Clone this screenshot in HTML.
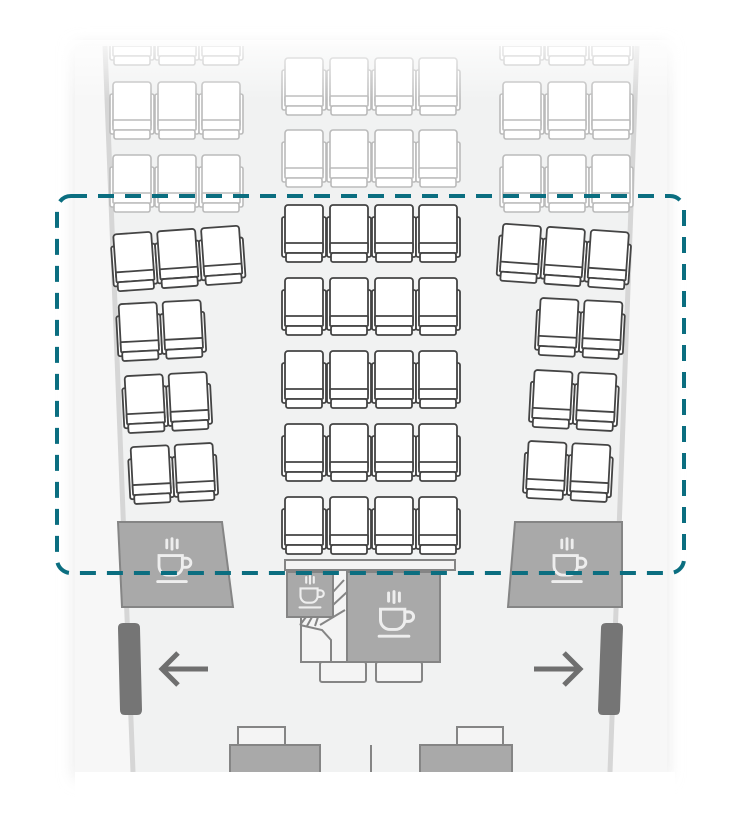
<!DOCTYPE html>
<html><head><meta charset="utf-8"><style>
html,body{margin:0;padding:0;background:#fff;width:740px;height:824px;overflow:hidden}
svg{display:block}
</style></head><body>
<svg width="740" height="824" viewBox="0 0 740 824" xmlns="http://www.w3.org/2000/svg">
<defs>
<g id="s">
 <rect x="0" y="12" width="5" height="40" rx="2" fill="#fff"/>
 <rect x="39" y="12" width="5" height="40" rx="2" fill="#fff"/>
 <rect x="3" y="0" width="38" height="46" rx="3" fill="#fff"/>
 <rect x="3" y="38" width="38" height="10" rx="1" fill="#fff"/>
 <rect x="4" y="48" width="36" height="9" rx="2" fill="#fff"/>
</g>
<g id="cup" fill="none" stroke-width="2.2" stroke-linecap="round">
 <path d="M-4,-14v-6 M0,-13v-8 M4,-14v-6"/>
 <path d="M-10,-8h18v8a7,7 0 0 1 -7,7h-4a7,7 0 0 1 -7,-7z"/>
 <path d="M8,-6h3a3.5,3.5 0 0 1 0,7h-3"/>
 <path d="M-11,12h22"/>
</g>
<linearGradient id="fade" x1="0" y1="0" x2="0" y2="1">
 <stop offset="0" stop-color="#fff" stop-opacity="1"/>
 <stop offset="1" stop-color="#fff" stop-opacity="0"/>
</linearGradient>
<clipPath id="topclip"><rect x="0" y="46" width="740" height="800"/></clipPath>
<filter id="sh" x="-10%" y="-10%" width="120%" height="120%"><feGaussianBlur stdDeviation="8"/></filter>
</defs>
<rect x="75" y="46" width="592" height="732" fill="#e6e6e6" filter="url(#sh)"/>
<rect x="75" y="46" width="592" height="726" fill="#f7f7f7"/>
<path d="M105,46 L133,772 L610,772 L637,46 Z" fill="#f1f2f2"/>
<path d="M105,46 L133,772 M637,46 L610,772" stroke="#d6d6d6" stroke-width="5"/>

<!-- faded seats -->
<g stroke="#bbb" stroke-width="1.6" clip-path="url(#topclip)">
 <use href="#s" x="110" y="82"/><use href="#s" x="155" y="82"/><use href="#s" x="199" y="82"/>
 <use href="#s" x="110" y="155"/><use href="#s" x="155" y="155"/><use href="#s" x="199" y="155"/>
 <use href="#s" x="500" y="82"/><use href="#s" x="545" y="82"/><use href="#s" x="589" y="82"/>
 <use href="#s" x="500" y="155"/><use href="#s" x="545" y="155"/><use href="#s" x="589" y="155"/>
 <use href="#s" x="282" y="58"/><use href="#s" x="327" y="58"/><use href="#s" x="372" y="58"/><use href="#s" x="416" y="58"/>
 <use href="#s" x="282" y="130"/><use href="#s" x="327" y="130"/><use href="#s" x="372" y="130"/><use href="#s" x="416" y="130"/>
 <use href="#s" x="110" y="8"/><use href="#s" x="155" y="8"/><use href="#s" x="199" y="8"/>
 <use href="#s" x="500" y="8"/><use href="#s" x="545" y="8"/><use href="#s" x="589" y="8"/>
</g>
<rect x="60" y="40" width="620" height="60" fill="url(#fade)" opacity="0.8"/>

<!-- active seats -->
<g stroke="#444" stroke-width="1.8">
 <g id="crow"><use href="#s" x="282" y="205"/><use href="#s" x="327" y="205"/><use href="#s" x="372" y="205"/><use href="#s" x="416" y="205"/></g>
 <use href="#crow" y="73"/><use href="#crow" y="146"/><use href="#crow" y="219"/><use href="#crow" y="292"/>
 <g transform="rotate(-4 178 258)"><use href="#s" x="112" y="230"/><use href="#s" x="156" y="230"/><use href="#s" x="200" y="230"/></g>
 <g transform="rotate(-3 162 330)"><use href="#s" x="117" y="302"/><use href="#s" x="161" y="302"/></g>
 <g transform="rotate(-3 168 402)"><use href="#s" x="123" y="374"/><use href="#s" x="167" y="374"/></g>
 <g transform="rotate(-3 173 473)"><use href="#s" x="129" y="445"/><use href="#s" x="173" y="445"/></g>
 <g transform="rotate(4 564 258)"><use href="#s" x="498" y="228"/><use href="#s" x="542" y="228"/><use href="#s" x="586" y="228"/></g>
 <g transform="rotate(3 580 330)"><use href="#s" x="536" y="300"/><use href="#s" x="580" y="300"/></g>
 <g transform="rotate(3 574 402)"><use href="#s" x="530" y="372"/><use href="#s" x="574" y="372"/></g>
 <g transform="rotate(3 568 473)"><use href="#s" x="524" y="443"/><use href="#s" x="568" y="443"/></g>
</g>

<!-- galleys -->
<g stroke="#858585" stroke-width="2">
 <path d="M118,522 L222,522 L233,607 L122,607 Z" fill="#a9a9a9"/>
 <path d="M515,522 L622,522 L622,607 L508,607 Z" fill="#a9a9a9"/>
 <rect x="285" y="560" width="170" height="10" fill="#f4f4f4"/>
 <path d="M301,572 V662 H440 V572" fill="#f4f4f4"/>
 <rect x="347" y="572" width="93" height="90" fill="#a9a9a9"/>
 <rect x="287" y="572" width="46" height="45" fill="#a9a9a9"/>
 <path d="M333,592 L344,580 M333,605 L347,592 M306,617 L300,625 M312,617 L307,626 M318,617 L315,626 M320,625 L345,610 M300,625 L322,630 L331,640 L331,662" fill="none"/>
 <rect x="320" y="662" width="46" height="20" rx="2" fill="#f4f4f4"/>
 <rect x="376" y="662" width="46" height="20" rx="2" fill="#f4f4f4"/>
 <rect x="238" y="727" width="47" height="18" fill="#f4f4f4"/>
 <rect x="230" y="745" width="90" height="30" fill="#a9a9a9"/>
 <rect x="457" y="727" width="46" height="18" fill="#f4f4f4"/>
 <rect x="420" y="745" width="92" height="30" fill="#a9a9a9"/>
 <path d="M371,745 V772"/>
</g>
<rect x="75" y="772" width="600" height="52" fill="#fff"/>
<g stroke="#eee">
 <g transform="translate(172 566) scale(1.3)"><use href="#cup"/></g>
 <g transform="translate(567 566) scale(1.3)"><use href="#cup"/></g>
 <g transform="translate(394 620) scale(1.35)"><use href="#cup"/></g>
 <g transform="translate(310 596) scale(0.95)"><use href="#cup"/></g>
</g>

<!-- exits -->
<path d="M118,628 q0,-5 5,-5 h12 q5,0 5,5 l2,82 q0,5 -5,5 h-12 q-5,0 -5,-5 Z" fill="#757575"/>
<path d="M601,628 q0,-5 5,-5 h12 q5,0 5,5 l-3,82 q0,5 -5,5 h-12 q-5,0 -5,-5 Z" fill="#757575"/>
<g stroke="#6f6f6f" stroke-width="5" fill="none" stroke-linecap="butt" stroke-linejoin="miter">
 <path d="M208,669 H162 M178,653 L162,669 L178,685"/>
 <path d="M534,669 H580 M564,653 L580,669 L564,685"/>
</g>

<rect x="57" y="196" width="627" height="377" rx="14" fill="none" stroke="#0b6e80" stroke-width="4" stroke-dasharray="16 11"/>
</svg>
</body></html>
